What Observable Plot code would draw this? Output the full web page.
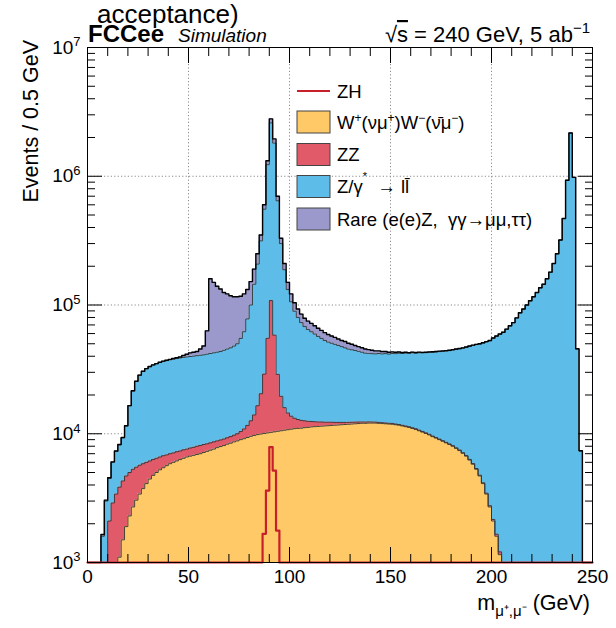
<!DOCTYPE html>
<html><head><meta charset="utf-8">
<script src="https://cdn.jsdelivr.net/npm/d3@7"></script>
<script src="https://cdn.jsdelivr.net/npm/@observablehq/plot@0.6"></script>
<style>html,body{margin:0;padding:0;background:#fff;} #chart svg{display:block}</style>
</head><body><div id="chart"></div>
<script>
// ---- histogram definition: 150 bins over 0..250 GeV ----
const nBins = 150, xMin = 0, xMax = 250;
const edges = d3.range(nBins + 1).map(i => xMin + i * (xMax - xMin) / nBins);

// ---- series values per bin (events) ----
const ww = [0,0,0,0,0,0,0,0,0,
1100,1500,1900,2300,2700,3050,3400,3750,4100,4450,4750,
5000,5250,5450,5650,5850,6000,6150,6300,6450,6600,
6700,6800,6900,7000,7150,7300,7450,7600,7800,7950,
8100,8300,8450,8650,8800,9000,9150,9350,9550,9700,
9850,9950,10050,10150,10250,10350,10450,10550,10650,10750,
10850,10950,11000,11050,11150,11200,11300,11350,11400,11450,
11500,11550,11600,11650,11700,11750,11800,11850,11900,11950,
12000,12050,12050,12100,12100,12100,12050,12000,11950,11900,
11850,11750,11650,11500,11350,11200,11000,10800,10550,10300,
10050,9800,9500,9250,9000,8750,8500,8250,8000,7700,
7400,7050,6700,6250,5800,5300,4700,4100,3400,2700,
2100,1600,1150,
0,0,0,0,0,0,0,0,0,0,0,0,0,0,0,0,0,0,0,0,0,0,0,0,0,0,0];

const zz = [0,0,0,0,0,0,
2100,2900,3400,2750,
2800,2800,2700,2600,2450,2300,2100,1900,1700,1550,
1450,1350,1300,1200,1150,1100,1100,1050,1050,1000,
1050,1050,1100,1100,1100,1050,1050,1050,1000,1000,
1000,1000,1050,1100,1200,1400,1750,2250,3050,4300,
6650,10500,19000,45000,98000,48000,18500,9000,5300,3750,
2850,2250,1900,1650,1450,1300,1150,1050,950,900,
800,750,700,600,550,500,450,420,400,370,
340,300,280,260,240,220,200,190,180,170,
170,160,150,150,140,140,130,130,120,120,
110,110,100,100,100,90,90,90,80,80,
80,80,70,70,70,70,70,60,60,60,
60,60,60,
0,0,0,0,0,0,0,0,0,0,0,0,0,0,0,0,0,0,0,0,0,0,0,0,0,0,0];

const zll = [0,0,0,0,
1600,3000,2400,3100,3900,4350,
5000,6800,11500,16200,20000,22800,24650,26000,27050,27900,
28550,29200,29750,30150,30500,30900,31150,31450,31700,31900,
32050,32250,32400,32600,32750,33150,33500,33850,34200,34550,
35400,36200,37000,38250,40000,44600,51100,66400,87400,131000,
191500,294500,526000,1175000,2492000,1752000,616000,280500,172000,117500,
92300,76300,67100,60300,55400,52000,49550,47100,44650,42650,
40700,39200,38200,37250,36250,35250,34250,33200,32600,32000,
31350,30650,29950,29750,29550,29400,29750,29500,29800,29500,
30000,30000,30400,30350,30800,30750,31450,31350,31900,32000,
32450,32900,33300,33800,34350,34800,35300,35850,36600,37400,
38200,39150,40200,41500,42700,43900,45000,46600,48300,50000,
53100,55600,58100,61300,64800,68800,72800,79300,86800,92800,
99800,107800,115800,124800,135800,144800,159800,179800,209800,249800,
319800,469800,929800,2170000,980000,45500,7300,0,0,0];

const rare = [0,0,0,0,
50,50,50,50,50,50,50,50,50,50,50,50,50,50,50,50,50,
100,150,200,300,400,500,700,1300,2000,
2700,2900,3100,4800,7000,21500,118000,107500,97000,89500,
80500,76500,71500,68000,66000,62000,60000,54000,52000,45000,
42000,35000,45000,90000,190000,140000,55000,30000,22000,18000,
16000,14500,13000,12000,11000,10500,10000,9500,9000,8500,
8000,7500,7000,6500,6000,5500,5500,5000,4600,4200,
3800,3500,3200,2900,2600,2300,2000,1800,1600,1400,
1200,1000,900,800,700,600,500,500,450,450,
400,400,400,350,350,350,300,300,300,300,
300,
200,200,200,200,200,200,200,200,200,200,200,200,200,200,200,200,200,200,
200,200,200,200,200,200,200,200,200,200,200,200,200,200,200,200,200,
100,0,0,0];

const zh = new Array(nBins).fill(0);
const zhBins = [52, 53, 54, 55, 56];
const zhVals = [1670, 3620, 7870, 5180, 1770];
zhBins.forEach((b, k) => { zh[b] = zhVals[k]; });

// ---- labels ----
const xMajor = [0, 50, 100, 150, 200, 250];
const xMinor = d3.range(0, 251, 10).filter(v => v % 50 !== 0);
const yMajor = [1e3, 1e4, 1e5, 1e6, 1e7];
const yMinor = [1e3, 1e4, 1e5, 1e6].flatMap(d => [2,3,4,5,6,7,8,9].map(m => m * d));
const xGrid = [50, 100, 150, 200];
const yGrid = [1e4, 1e5, 1e6];
const legendItems = [
  {key: "zh", kind: "line"},
  {key: "ww", kind: "box"},
  {key: "zz", kind: "box"},
  {key: "zll", kind: "box"},
  {key: "rare", kind: "box"}
];
const colors = {ww: "#fec966", zz: "#e05a6a", zll: "#5ebde8", rare: "#9b99cb", zh: "#c8202a"};

const yFloor = 1e3;
const clampY = v => Math.max(v, yFloor);
const pts = edges.map((x, i) => {
  const j = Math.min(i, nBins - 1);
  const a = ww[j], b = a + zz[j], c = b + zll[j], d = c + rare[j];
  return {x, c0: yFloor, c1: clampY(a), c2: clampY(b), c3: clampY(c), c4: clampY(d), zh: clampY(zh[j])};
});

const FONT = "'Liberation Sans', Arial, Helvetica, sans-serif";
const step = "step-after";
const outline = "#333";

const svg = Plot.plot({
  width: 616, height: 628,
  marginLeft: 87, marginRight: 24, marginTop: 47, marginBottom: 66,
  style: {fontFamily: FONT, fontSize: "19px", background: "white", color: "black", overflow: "visible"},
  x: {domain: [0, 250]},
  y: {type: "log", domain: [1e3, 1e7]},
  marks: [
    Plot.gridX(xGrid, {stroke: "#8c8c8c", strokeOpacity: 1, strokeDasharray: "1.2,2.2"}),
    Plot.gridY(yGrid, {stroke: "#8c8c8c", strokeOpacity: 1, strokeDasharray: "1.2,2.2"}),
    Plot.area(pts, {x1: "x", y1: "c0", y2: "c1", curve: step, fill: colors.ww}),
    Plot.area(pts, {x1: "x", y1: "c1", y2: "c2", curve: step, fill: colors.zz}),
    Plot.area(pts, {x1: "x", y1: "c2", y2: "c3", curve: step, fill: colors.zll}),
    Plot.area(pts, {x1: "x", y1: "c3", y2: "c4", curve: step, fill: colors.rare}),
    Plot.line(pts, {x: "x", y: "c1", curve: step, stroke: outline, strokeWidth: 0.9}),
    Plot.line(pts, {x: "x", y: "c2", curve: step, stroke: outline, strokeWidth: 0.9}),
    Plot.line(pts, {x: "x", y: "c3", curve: step, stroke: outline, strokeWidth: 0.9}),
    Plot.line(pts, {x: "x", y: "c4", curve: step, stroke: "black", strokeWidth: 1.4}),
    Plot.line(pts, {x: "x", y: "zh", curve: step, stroke: colors.zh, strokeWidth: 2.2}),
    Plot.frame({stroke: "black", strokeWidth: 1}),
    Plot.axisX({ticks: xMajor, anchor: "bottom", tickSize: -15, fill: "none", label: null}),
    Plot.axisX({ticks: xMinor, anchor: "bottom", tickSize: -8, fill: "none", label: null}),
    Plot.axisX({ticks: xMajor, anchor: "top", tickSize: -15, fill: "none", label: null}),
    Plot.axisX({ticks: xMinor, anchor: "top", tickSize: -8, fill: "none", label: null}),
    Plot.axisX({ticks: xMajor, anchor: "bottom", tickSize: 0, tickPadding: 7, fontSize: 19, label: null}),
    Plot.axisY({ticks: yMajor, anchor: "left", tickSize: -15, fill: "none", label: null}),
    Plot.axisY({ticks: yMinor, anchor: "left", tickSize: -8, fill: "none", label: null}),
    Plot.axisY({ticks: yMajor, anchor: "right", tickSize: -15, fill: "none", label: null}),
    Plot.axisY({ticks: yMinor, anchor: "right", tickSize: -8, fill: "none", label: null}),
    Plot.axisY({ticks: yMajor, anchor: "left", tickSize: 0, tickPadding: 7, fontSize: 19, label: null,
      tickFormat: d => String(Math.round(Math.log10(d)))})
  ]
});

document.getElementById("chart").appendChild(svg);
const S = d3.select(svg);

// superscript exponents on the log axis labels
S.selectAll('g[aria-label="y-axis tick label"] text').each(function() {
  const t = d3.select(this);
  const e = t.text();
  t.text("");
  t.append("tspan").text("10");
  t.append("tspan").attr("dy", "-0.55em").attr("font-size", "13px").text(e);
});

const g = S.append("g").attr("font-family", FONT).attr("fill", "black").attr("text-anchor", "start");

// title fragment and labels
g.append("text").attr("x", 97).attr("y", 23).attr("font-size", 26).text("acceptance)");
g.append("text").attr("x", 88).attr("y", 42).attr("font-size", 24).attr("font-weight", "bold").text("FCCee");
g.append("text").attr("x", 178).attr("y", 42).attr("font-size", 19).attr("font-style", "italic").text("Simulation");
const rs = g.append("text").attr("x", 590).attr("y", 42).attr("font-size", 22).attr("text-anchor", "end");
rs.append("tspan").text("√");
rs.append("tspan").style("text-decoration", "overline").text("s");
rs.append("tspan").text(" = 240 GeV, 5 ab");
rs.append("tspan").attr("dy", "-0.6em").attr("font-size", 15).text("−1");

g.append("text").attr("transform", "translate(38,40) rotate(-90)").attr("text-anchor", "end")
  .attr("font-size", 21.5).text("Events / 0.5 GeV");

const xt = g.append("text").attr("x", 590).attr("y", 610).attr("font-size", 21.5).attr("text-anchor", "end");
xt.append("tspan").text("m");
xt.append("tspan").attr("dy", 6).attr("font-size", 15).text("μ⁺,μ⁻");
xt.append("tspan").attr("dy", -6).text(" (GeV)");

// legend
const lg = g.append("g").attr("font-size", 18.5).attr("text-anchor", "start");
const rowY = [91, 122, 154.5, 186.5, 219];
legendItems.forEach((it, i) => {
  const cy = rowY[i];
  if (it.kind === "line") {
    lg.append("line").attr("x1", 297).attr("x2", 330).attr("y1", cy).attr("y2", cy)
      .attr("stroke", colors[it.key]).attr("stroke-width", 2.2);
  } else {
    lg.append("rect").attr("x", 297).attr("y", cy - 11).attr("width", 33).attr("height", 22)
      .attr("fill", colors[it.key]).attr("stroke", "#444").attr("stroke-width", 1);
  }
});
const tx = 337;
lg.append("text").attr("x", tx).attr("y", rowY[0] + 6.5).text("ZH");
const t1 = lg.append("text").attr("x", tx).attr("y", rowY[1] + 6.5);
t1.append("tspan").text("W");
t1.append("tspan").attr("dy", -7).attr("font-size", 12).text("+");
t1.append("tspan").attr("dy", 7).text("(νμ");
t1.append("tspan").attr("dy", -7).attr("font-size", 12).text("+");
t1.append("tspan").attr("dy", 7).text(")W");
t1.append("tspan").attr("dy", -7).attr("font-size", 12).text("−");
t1.append("tspan").attr("dy", 7).text("(ν̄μ");
t1.append("tspan").attr("dy", -7).attr("font-size", 12).text("−");
t1.append("tspan").attr("dy", 7).text(")");
lg.append("text").attr("x", tx).attr("y", rowY[2] + 6.5).text("ZZ");
const t3 = lg.append("text").attr("x", tx).attr("y", rowY[3] + 6.5);
t3.append("tspan").text("Z/γ");
t3.append("tspan").attr("dy", -13).attr("font-size", 11).text("*");
t3.append("tspan").attr("dy", 13).text("  → ll̄");
lg.append("text").attr("x", tx).attr("y", rowY[4] + 6.5).text("Rare (e(e)Z,  γγ→μμ,ττ)");
</script></body></html>
